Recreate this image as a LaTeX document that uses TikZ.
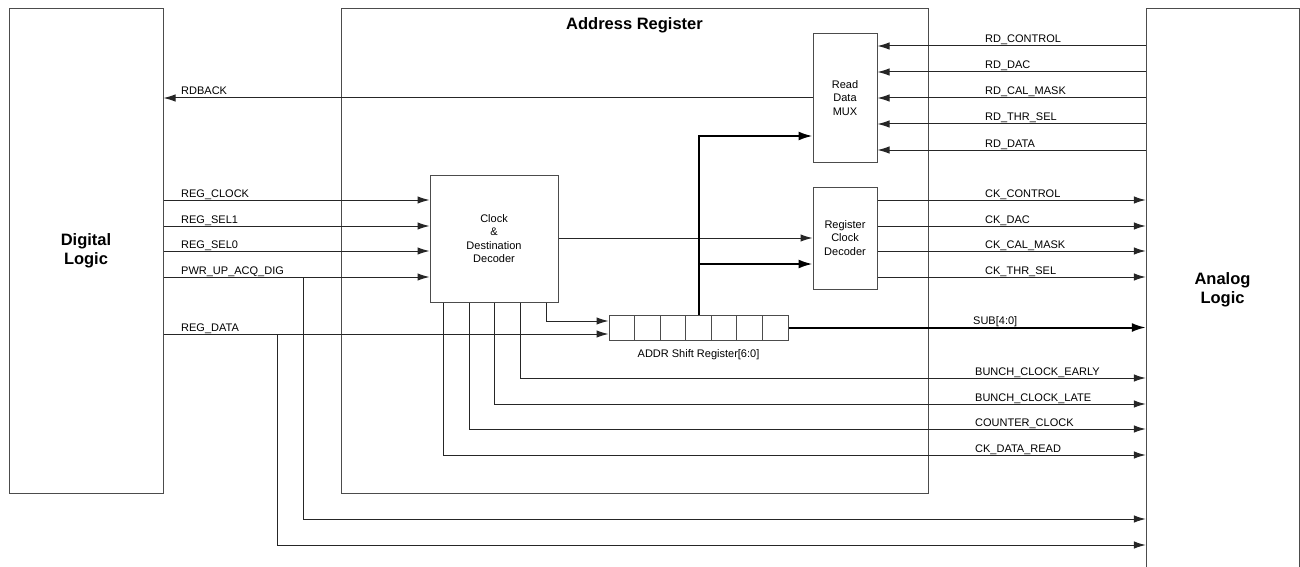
\documentclass[tikz,border=0pt]{standalone}
\usepackage{fontspec}
\setmainfont{Liberation Sans}
\usetikzlibrary{arrows.meta,calc}
\begin{document}
\begin{tikzpicture}[x=1pt,y=-1pt,
  box/.style={draw=black!70, line width=1pt, inner sep=0pt, align=center, font=\fontsize{11}{13.5}\selectfont},
  big/.style={font=\fontsize{16.5}{19}\selectfont\bfseries, align=center},
  lbl/.style={anchor=base west, inner sep=0pt, font=\fontsize{11}{13}\selectfont},
  wire/.style={draw=black!85, line width=1pt},
  arr/.style={wire, -{Latex[length=12pt,width=7.5pt]}},
  bus/.style={draw=black, line width=2pt},
  busarr/.style={bus, -{Latex[length=14pt,width=9pt]}},
  cell/.style={draw=black!70, line width=1pt, minimum width=25.571pt, minimum height=25pt, inner sep=0pt},
]
\useasboundingbox (0,0) rectangle (1300,567);

% main boxes
\node[box, big, minimum width=154pt, minimum height=484pt] (dig) at (86,251) {Digital\\Logic};
\node[box, minimum width=587pt, minimum height=484pt] (addr) at (634.5,251) {};
\node[big, anchor=base] (addrtitle) at (634.5,30) {Address Register};
\node[big, inner sep=0pt, minimum width=153pt] (ana) at (1222.5,290) {Analog\\Logic};
\coordinate (anaBL) at (1146,567);
\coordinate (anaTL) at (1146,9);
\coordinate (anaTR) at (1299,9);
\coordinate (anaBR) at (1299,567);
\draw[draw=black!70, line width=1pt] (anaBL) -- (anaTL) -- (anaTR) -- (anaBR);

% inner blocks
\node[box, minimum width=64pt, minimum height=128pt] (mux) at (845,98) {Read\\Data\\MUX};
\node[box, minimum width=64pt, minimum height=102pt] (rcd) at (845,238) {Register\\Clock\\Decoder};
\node[box, minimum width=128pt, minimum height=127pt] (cdd) at (494,238.5) {Clock\\\&\\Destination\\Decoder};
\foreach \i in {1,...,7}
  \node[cell] (c\i) at ({609+25.571*(\i-0.5)},327.5) {};
\node[anchor=base, inner sep=0pt, font=\fontsize{11}{13}\selectfont] (srlabel) at (698.5,357) {ADDR Shift Register[6:0]};

% read-back inputs to MUX
\foreach \y/\t in {46/RD\_CONTROL, 72/RD\_DAC, 98/RD\_CAL\_MASK, 124/RD\_THR\_SEL, 150/RD\_DATA} {
  \draw[arr] (ana.west |- 0,\y) -- (mux.east |- 0,\y);
  \node[lbl] at (985,\y-3) {\t};
}
\draw[arr] (mux.west) -- (dig.east |- mux.west);
\node[lbl] at (181,95) {RDBACK};

% inputs to clock & destination decoder
\foreach \y/\t in {200/REG\_CLOCK, 226/REG\_SEL1, 251/REG\_SEL0, 277/PWR\_UP\_ACQ\_DIG} {
  \draw[arr] (dig.east |- 0,\y) -- (cdd.west |- 0,\y);
  \node[lbl] at (181,\y-3) {\t};
}
\coordinate (pwrsplit) at (303,277);
\draw[arr] (pwrsplit) |- (ana.west |- 0,519);

% REG_DATA
\draw[arr] (dig.east |- 0,334) -- (c1.west |- 0,334);
\node[lbl] at (181,331) {REG\_DATA};
\coordinate (datasplit) at (277,334);
\draw[arr] (datasplit) |- (ana.west |- 0,545);

% decoder outputs
\draw[arr] (cdd.east |- rcd.west) -- (rcd.west);
\draw[arr] (cdd.south -| 546,0) |- (c1.west |- 0,321);
\foreach \x/\y/\t in {520/378/BUNCH\_CLOCK\_EARLY, 494/404/BUNCH\_CLOCK\_LATE, 469/429/COUNTER\_CLOCK, 443/455/CK\_DATA\_READ} {
  \draw[arr] (cdd.south -| \x,0) |- (ana.west |- 0,\y);
  \node[lbl] at (975,\y-3) {\t};
}

% register clock decoder outputs
\foreach \y/\t in {200/CK\_CONTROL, 226/CK\_DAC, 251/CK\_CAL\_MASK, 277/CK\_THR\_SEL} {
  \draw[arr] (rcd.east |- 0,\y) -- (ana.west |- 0,\y);
  \node[lbl] at (985,\y-3) {\t};
}

% address bus
\draw[busarr] (c4.north) |- (mux.west |- 0,136);
\coordinate (busbranch) at (c4.north |- 0,264);
\draw[busarr] (busbranch) -- (rcd.west |- busbranch);
\draw[busarr] (c7.east) -- (ana.west |- c7.east);
\node[lbl] at (973,324) {SUB[4:0]};
\end{tikzpicture}
\end{document}
